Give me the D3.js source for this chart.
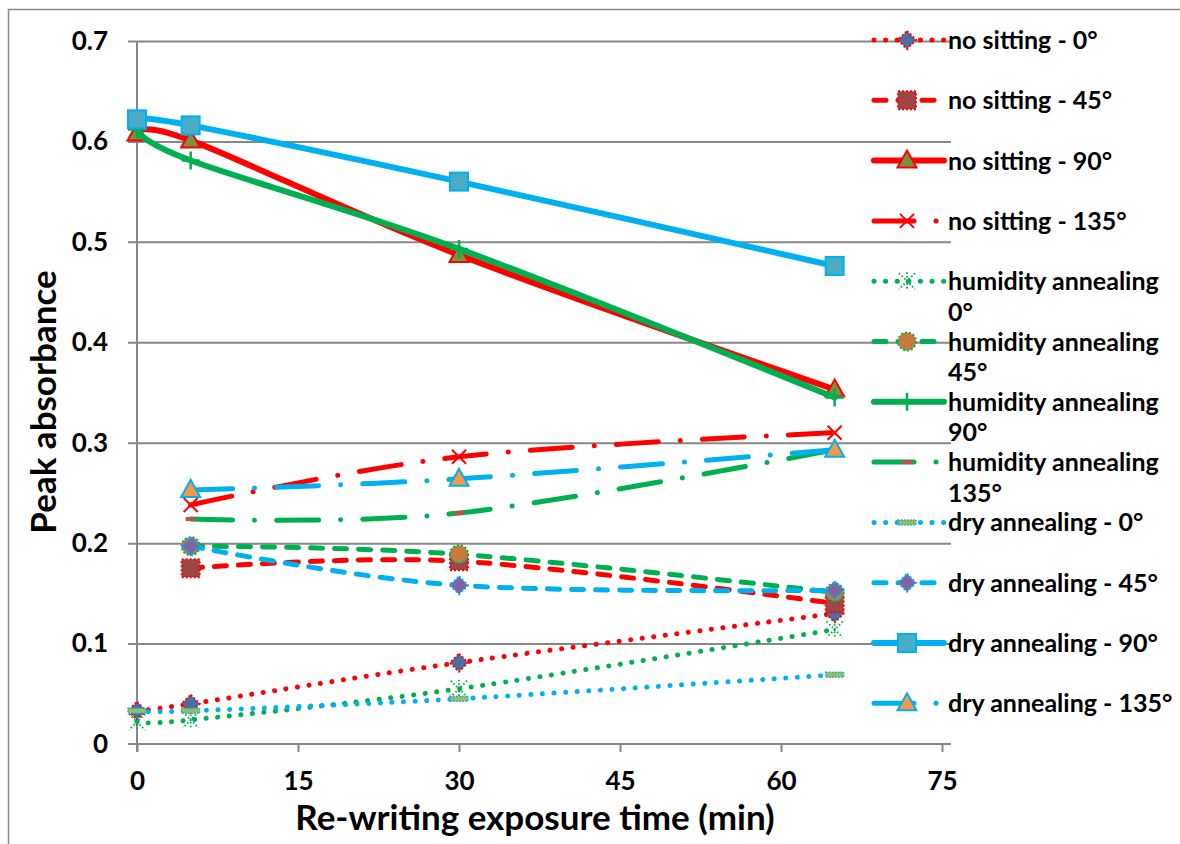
<!DOCTYPE html>
<html><head><meta charset="utf-8">
<script src="https://cdn.jsdelivr.net/npm/d3@7/dist/d3.min.js"></script>
<style>
html,body{margin:0;padding:0;background:#fff;}
svg{display:block;}
text{font-family:Lato,"Open Sans",sans-serif;font-weight:700;fill:#000;}
</style></head>
<body><svg id="c" width="1180" height="844"></svg>
<script>
// ---- data ----
const times = [0, 5, 30, 65];
const seriesNames = [
  "no sitting - 0°", "no sitting - 45°", "no sitting - 90°", "no sitting - 135°",
  "humidity annealing 0°", "humidity annealing 45°", "humidity annealing 90°", "humidity annealing 135°",
  "dry annealing - 0°", "dry annealing - 45°", "dry annealing - 90°", "dry annealing - 135°"
];
const noSitting0   = [0.033, 0.040, 0.081, 0.130];
const noSitting45  = [null, 0.175, 0.182, 0.140];
const noSitting90  = [0.608, 0.601, 0.487, 0.353];
const noSitting135 = [null, 0.238, 0.286, 0.310];
const humidity0    = [0.022, 0.024, 0.055, 0.114];
const humidity45   = [null, 0.197, 0.189, 0.151];
const humidity90   = [0.612, 0.581, 0.493, 0.345];
const humidity135  = [null, 0.224, 0.230, 0.293];
const dry0         = [0.033, 0.033, 0.045, 0.069];
const dry45        = [null, 0.197, 0.158, 0.153];
const dry90        = [0.622, 0.616, 0.560, 0.476];
const dry135       = [null, 0.253, 0.264, 0.293];
const seriesValues = [noSitting0, noSitting45, noSitting90, noSitting135,
  humidity0, humidity45, humidity90, humidity135, dry0, dry45, dry90, dry135];
const yTicks = [0, 0.1, 0.2, 0.3, 0.4, 0.5, 0.6, 0.7];
const yTickLabels = ["0", "0.1", "0.2", "0.3", "0.4", "0.5", "0.6", "0.7"];
const xTicks = [0, 15, 30, 45, 60, 75];
const xTitle = "Re-writing exposure time (min)";
const yTitle = "Peak absorbance";

// ---- styles ----
const RED = "#FF0000", GREEN = "#00B050", BLUE = "#00B0F0", GRID = "#878787";
const DOT = "0.1 11.5", DASH = "12 12", DASHDOT = "42 22 0.1 22";
const styles = [
  {c: RED, d: DOT, m: "diamond", f: "#4A6FA5", ms: RED, md: "2 2"},
  {c: RED, d: DASH, m: "square", f: "#9E4545", ms: RED, md: "2 2"},
  {c: RED, d: null, m: "triangle", f: "#77933C", ms: RED, md: null},
  {c: RED, d: DASHDOT, m: "x", f: "none", ms: RED, md: null},
  {c: GREEN, d: DOT, m: "star", f: "none", ms: GREEN, md: "1.5 2.2"},
  {c: GREEN, d: DASH, m: "circle", f: "#C87A3C", ms: GREEN, md: "2 2"},
  {c: GREEN, d: null, m: "plus", f: "none", ms: GREEN, md: null},
  {c: GREEN, d: DASHDOT, m: "smalldash", f: "#C0504D", ms: GREEN, md: null},
  {c: BLUE, d: DOT, m: "dash", f: "#9BBB59", ms: BLUE, md: "1.5 1.5"},
  {c: BLUE, d: DASH, m: "diamond", f: "#8064A2", ms: BLUE, md: "2 2"},
  {c: BLUE, d: null, m: "square", f: "#4BACC6", ms: BLUE, md: null},
  {c: BLUE, d: DASHDOT, m: "triangle", f: "#F79646", ms: BLUE, md: null}
];

const svg = d3.select("#c");
svg.append("rect").attr("x", 8.5).attr("y", 9.5).attr("width", 1200).attr("height", 900)
  .attr("fill", "#fff").attr("stroke", "#8a8a8a").attr("stroke-width", 1.5);

const x = d3.scaleLinear().domain([0, 75]).range([137, 942]);
const y = d3.scaleLinear().domain([0, 0.7]).range([744, 41]);
const gridRight = 951, tickLeft = 128;

// gridlines
const grid = svg.append("g").attr("transform", `translate(${tickLeft},0)`)
  .call(d3.axisLeft(y).tickValues(yTicks.slice(1)).tickSize(-(gridRight - tickLeft)).tickFormat(""));
grid.select(".domain").remove();
grid.selectAll("line").attr("stroke", GRID).attr("stroke-width", 2);

// y labels
const yl = svg.append("g").attr("transform", "translate(137,0)")
  .call(d3.axisLeft(y).tickValues(yTicks).tickSize(0).tickPadding(29).tickFormat((d, i) => yTickLabels[i]));
yl.select(".domain").remove();
yl.selectAll("text").attr("font-size", 26).attr("font-family", "Lato").attr("font-weight", 700).attr("fill", "#000");

// x axis
const xa = svg.append("g").attr("transform", "translate(0,744)")
  .call(d3.axisBottom(x).tickValues(xTicks).tickSize(8).tickPadding(20));
xa.select(".domain").remove();
xa.selectAll("line").attr("stroke", GRID).attr("stroke-width", 2);
xa.selectAll("text").attr("font-size", 26).attr("font-family", "Lato").attr("font-weight", 700).attr("fill", "#000");
svg.append("line").attr("x1", tickLeft).attr("x2", gridRight).attr("y1", 744).attr("y2", 744)
  .attr("stroke", GRID).attr("stroke-width", 2);
svg.append("line").attr("x1", 137).attr("x2", 137).attr("y1", y(0.7)).attr("y2", 752)
  .attr("stroke", GRID).attr("stroke-width", 2);

// titles
svg.append("text").attr("x", 535).attr("y", 830).attr("text-anchor", "middle")
  .attr("font-size", 35).text(xTitle);
svg.append("text").attr("transform", "translate(56,402) rotate(-90)").attr("text-anchor", "middle")
  .attr("font-size", 35).text(yTitle);

// marker drawing
function marker(g, type, st, cx, cy) {
  const base = sel => sel.attr("fill", st.f).attr("stroke", st.ms).attr("stroke-dasharray", st.md);
  if (type === "diamond") {
    g.append("path").attr("d", `M${cx},${cy-9}L${cx+9},${cy}L${cx},${cy+9}L${cx-9},${cy}Z`)
      .call(base).attr("stroke-width", 2);
  } else if (type === "square") {
    g.append("rect").attr("x", cx-9).attr("y", cy-9).attr("width", 18).attr("height", 18)
      .call(base).attr("stroke-width", 2);
  } else if (type === "triangle") {
    g.append("path").attr("d", `M${cx},${cy-10}L${cx+9.5},${cy+7}L${cx-9.5},${cy+7}Z`)
      .call(base).attr("stroke-width", 2);
  } else if (type === "circle") {
    g.append("circle").attr("cx", cx).attr("cy", cy).attr("r", 9).call(base).attr("stroke-width", 2);
  } else if (type === "x") {
    g.append("path").attr("d", `M${cx-7},${cy-7}L${cx+7},${cy+7}M${cx+7},${cy-7}L${cx-7},${cy+7}`)
      .attr("stroke", st.ms).attr("stroke-width", 2).attr("fill", "none");
  } else if (type === "plus") {
    g.append("path").attr("d", `M${cx},${cy-9}L${cx},${cy+9}M${cx-9},${cy}L${cx+9},${cy}`)
      .attr("stroke", st.ms).attr("stroke-width", 2.5).attr("fill", "none");
  } else if (type === "star") {
    g.append("path").attr("d", `M${cx-8},${cy-8}L${cx+8},${cy+8}M${cx+8},${cy-8}L${cx-8},${cy+8}M${cx},${cy-9}L${cx},${cy+9}`)
      .attr("stroke", st.ms).attr("stroke-width", 2).attr("stroke-dasharray", st.md).attr("fill", "none");
  } else if (type === "dash") {
    g.append("rect").attr("x", cx-9).attr("y", cy-2.5).attr("width", 18).attr("height", 5)
      .call(base).attr("stroke-width", 1.5);
  } else if (type === "smalldash") {
    g.append("rect").attr("x", cx-5).attr("y", cy-2).attr("width", 10).attr("height", 4)
      .attr("fill", st.f).attr("stroke", "none");
  }
}

// series
const line = d3.line().defined(d => d[1] != null).x(d => x(d[0])).y(d => y(d[1]))
  .curve(d3.curveCardinal.tension(0));
seriesValues.forEach((vals, i) => {
  const st = styles[i];
  const g = svg.append("g");
  const pts = times.map((t, k) => [t, vals[k]]).filter(d => d[1] != null);
  const solid = !st.d;
  g.append("path").attr("d", line(pts)).attr("fill", "none").attr("stroke", st.c)
    .attr("stroke-width", solid ? 6 : 5).attr("stroke-linecap", "round").attr("stroke-linejoin", "round")
    .attr("stroke-dasharray", st.d);
  pts.forEach(p => marker(g, st.m, st, x(p[0]), y(p[1])));
});

// legend
const leg = svg.append("g");
seriesNames.forEach((name, i) => {
  const st = styles[i];
  const cy = 40 + i * 60.3;
  const g = leg.append("g");
  g.append("line").attr("x1", 874).attr("x2", 944).attr("y1", cy).attr("y2", cy)
    .attr("stroke", st.c).attr("stroke-width", st.d ? 5 : 6).attr("stroke-linecap", "round")
    .attr("stroke-dasharray", st.d === DASHDOT ? "40 22 0.1 22" : st.d);
  marker(g, st.m, st, 907, cy);
  const t = g.append("text").attr("x", 948).attr("y", cy).attr("dy", "0.36em").attr("font-size", 25);
  if (name.startsWith("humidity")) {
    t.text("humidity annealing");
    g.append("text").attr("x", 948).attr("y", cy + 30.5).attr("dy", "0.36em").attr("font-size", 25)
      .text(name.replace("humidity annealing ", ""));
  } else {
    t.text(name);
  }
});
</script></body></html>
